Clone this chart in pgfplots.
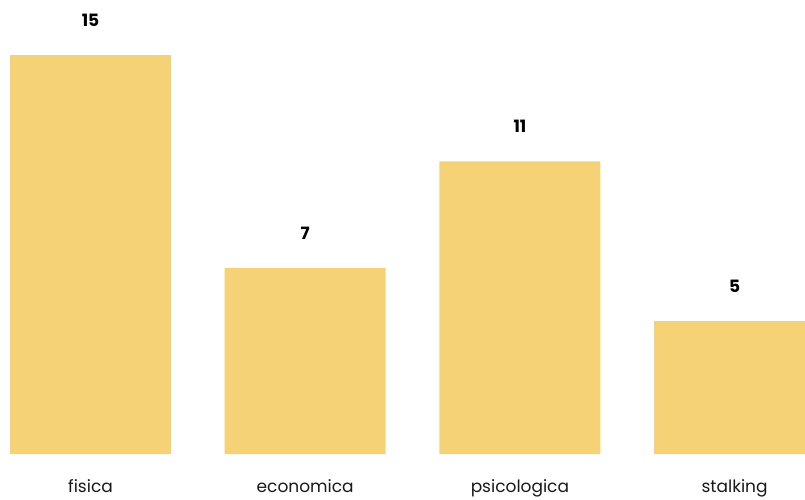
\documentclass[border=0pt]{standalone}
\usepackage{pgfplots}
\pgfplotsset{compat=1.18}
\usepackage{fontspec}
\setmainfont{Poppins}
\definecolor{barc}{HTML}{F4D275}
\begin{document}
\begin{tikzpicture}
\begin{axis}[
  at={(0,0)}, anchor=south west,
  scale only axis, width=805pt, height=454pt,
  xmin=-0.4216, xmax=3.328, ymin=0, ymax=17.07,
  axis line style={draw=none}, tick style={draw=none},
  ytick=\empty,
  xtick=data, xticklabels={fisica,economica,psicologica,stalking},
  xticklabel style={font=\fontsize{17}{20}\selectfont, text=black!90, yshift=-18pt},
  ybar, bar width=0.75, bar shift=0pt,
  /pgf/number format/assume math mode=true,
  nodes near coords,
  nodes near coords style={font=\fontsize{17}{20}\selectfont\bfseries, text=black, yshift=35pt},
  every node near coord/.append style={anchor=center},
]
\addplot[fill=barc, draw=none] coordinates {(0,15) (1,7) (2,11) (3,5)};
\end{axis}
\pgfresetboundingbox
\path[use as bounding box] (0,-45pt) rectangle (805pt,454pt);
\end{tikzpicture}
\end{document}
